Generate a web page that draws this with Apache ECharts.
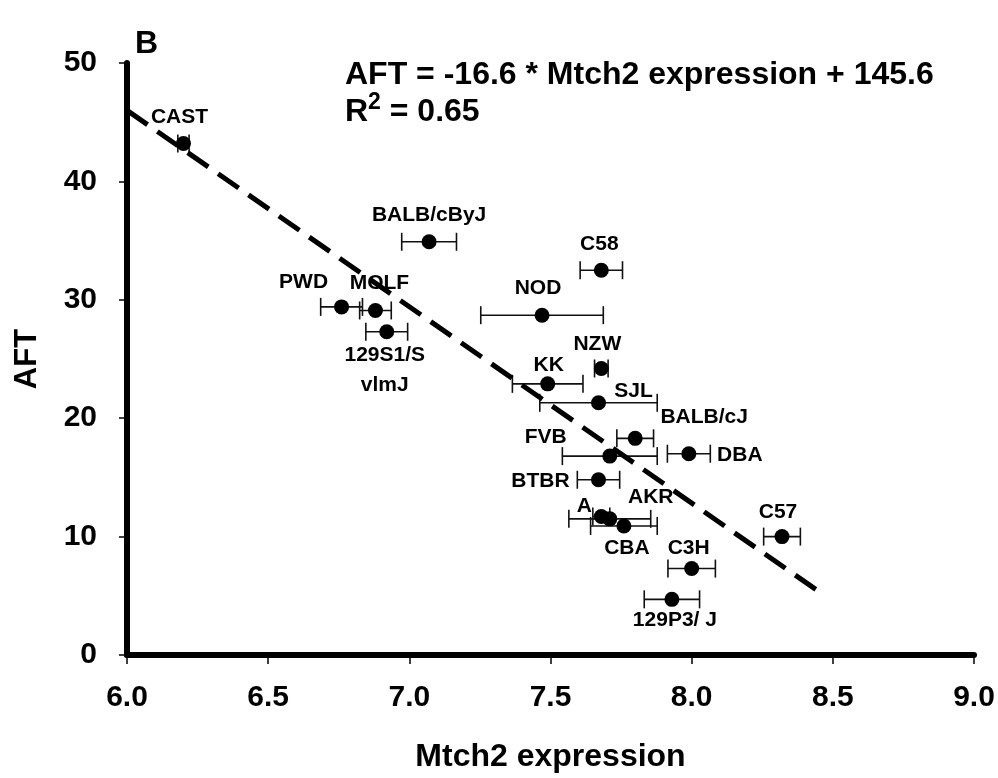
<!DOCTYPE html>
<html>
<head>
<meta charset="utf-8">
<script src="https://cdn.jsdelivr.net/npm/echarts@6/dist/echarts.min.js"></script>
<style>
html,body{margin:0;padding:0;background:#fff;}
#chart{width:998px;height:778px;}
</style>
</head>
<body>
<div id="chart"></div>
<script>
// ---- data ----
var strains = ['CAST','BALB/cByJ','PWD','MOLF','129S1/S\nvlmJ','C58','NOD','NZW','KK','SJL','BALB/cJ','FVB','DBA','BTBR','A','AKR','CBA','C3H','129P3/ J','C57'];
var mtch2   = [6.20, 7.07, 6.76, 6.88, 6.92, 7.68, 7.47, 7.68, 7.49, 7.67, 7.80, 7.71, 7.99, 7.67, 7.68, 7.71, 7.76, 8.00, 7.93, 8.32];
var aft     = [43.2, 34.9, 29.4, 29.1, 27.3, 32.5, 28.7, 24.2, 22.9, 21.3, 18.3, 16.8, 17.0, 14.8, 11.7, 11.5, 10.9, 7.3, 4.7, 10.0];
var mtch2Err= [0.02, 0.097, 0.074, 0.056, 0.074, 0.075, 0.217, 0.024, 0.125, 0.208, 0.065, 0.168, 0.076, 0.075, 0.03, 0.145, 0.118, 0.084, 0.098, 0.065];
var trendX  = [6.0, 8.46];
var trendY  = [46.0, 5.2];
var xTicks  = [6.0, 6.5, 7.0, 7.5, 8.0, 8.5, 9.0];
var yTicks  = [0, 10, 20, 30, 40, 50];

// ---- label placement (style, pixels) ----
var labelOffsets = {
  'CAST':[-4,-26], 'BALB/cByJ':[0,-27], 'PWD':[-38,-25], 'MOLF':[4,-27], '129S1/S\nvlmJ':[-2,38],
  'C58':[-2,-26], 'NOD':[-4,-27], 'NZW':[-4,-24], 'KK':[1,-19], 'SJL':[35,-12], 'BALB/cJ':[69,-21],
  'FVB':[-64,-19], 'DBA':[51,1], 'BTBR':[-58,1], 'A':[-17,-10], 'AKR':[41,-22], 'CBA':[3,22],
  'C3H':[-3,-20], '129P3/ J':[3,21], 'C57':[-4,-24]
};

var FONT = '"Liberation Sans", Arial, sans-serif';
var chart = echarts.init(document.getElementById('chart'));

var pts = [];
for (var i = 0; i < strains.length; i++) {
  var off = labelOffsets[strains[i]];
  pts.push({
    name: strains[i],
    value: [mtch2[i], aft[i]],
    label: { show: true, position: 'inside', offset: off, formatter: strains[i] }
  });
}
var errData = [];
for (var j = 0; j < strains.length; j++) errData.push([mtch2[j], aft[j], mtch2Err[j]]);
var trendData = [];
for (var k = 0; k < trendX.length; k++) trendData.push([trendX[k], trendY[k]]);

chart.setOption({
  animation: false,
  backgroundColor: '#fff',
  textStyle: { fontFamily: FONT },
  grid: { left: 127, right: 24, top: 63, bottom: 122 },
  xAxis: {
    type: 'value', min: xTicks[0], max: xTicks[xTicks.length-1], interval: 0.5,
    name: 'Mtch2 expression', nameLocation: 'middle', nameGap: 86,
    nameTextStyle: { fontFamily: FONT, fontWeight: 'bold', fontSize: 32, color: '#000' },
    axisLine: { lineStyle: { color: '#000', width: 6 } },
    axisTick: { show: true, length: 9, lineStyle: { color: '#000', width: 1.5 } },
    axisLabel: { margin: 28, fontFamily: FONT, fontWeight: 'bold', fontSize: 30, color: '#000',
      formatter: function(v){ return v.toFixed(1); } },
    splitLine: { show: false }
  },
  yAxis: {
    type: 'value', min: yTicks[0], max: yTicks[yTicks.length-1], interval: 10,
    name: 'AFT', nameLocation: 'middle', nameGap: 84, nameRotate: 90,
    nameTextStyle: { fontFamily: FONT, fontWeight: 'bold', fontSize: 31, color: '#000' },
    axisLine: { lineStyle: { color: '#000', width: 6 } },
    axisTick: { show: true, length: 8, lineStyle: { color: '#000', width: 1.5 } },
    axisLabel: { margin: 30, fontFamily: FONT, fontWeight: 'bold', fontSize: 30, color: '#000' },
    splitLine: { show: false }
  },
  series: [
    {
      type: 'custom',
      data: errData,
      z: 2,
      renderItem: function(params, api) {
        var x = api.value(0), y = api.value(1), e = api.value(2);
        var p1 = api.coord([x - e, y]);
        var p2 = api.coord([x + e, y]);
        var h = 9;
        var st = { stroke: '#111', lineWidth: 1.6 };
        return {
          type: 'group',
          children: [
            { type: 'line', shape: { x1: p1[0], y1: p1[1], x2: p2[0], y2: p2[1] }, style: st },
            { type: 'line', shape: { x1: p1[0], y1: p1[1]-h, x2: p1[0], y2: p1[1]+h }, style: st },
            { type: 'line', shape: { x1: p2[0], y1: p2[1]-h, x2: p2[0], y2: p2[1]+h }, style: st }
          ]
        };
      }
    },
    {
      type: 'scatter',
      data: pts,
      z: 3,
      symbol: 'circle',
      symbolSize: 15,
      itemStyle: { color: '#000', opacity: 1 },
      label: { show: true, color: '#000', opacity: 1, fontFamily: FONT, fontWeight: 'bold', fontSize: 21, lineHeight: 30 },
      emphasis: { disabled: true }
    },
    {
      type: 'line',
      data: trendData,
      z: 4,
      symbol: 'none',
      lineStyle: { color: '#000', width: 5, type: [25, 12], cap: 'butt', opacity: 1 }
    }
  ],
  graphic: [
    { type: 'text', left: 135, top: 28, style: { text: 'B', font: 'bold 32px ' + FONT, fill: '#000' } },
    { type: 'text', x: 345, y: 75, style: { text: 'AFT = -16.6 * Mtch2 expression + 145.6', font: 'bold 32px ' + FONT, fill: '#000', verticalAlign: 'middle' } },
    { type: 'text', x: 345, y: 110, style: {
        text: '{a|R}{s|2}{a| = 0.65}', verticalAlign: 'middle', fill: '#000',
        rich: {
          a: { font: 'bold 32px ' + FONT, fill: '#000', verticalAlign: 'bottom' },
          s: { font: 'bold 23px ' + FONT, fill: '#000', verticalAlign: 'top', padding: [0,0,14,0] }
        }
      } }
  ]
});
</script>
</body>
</html>
